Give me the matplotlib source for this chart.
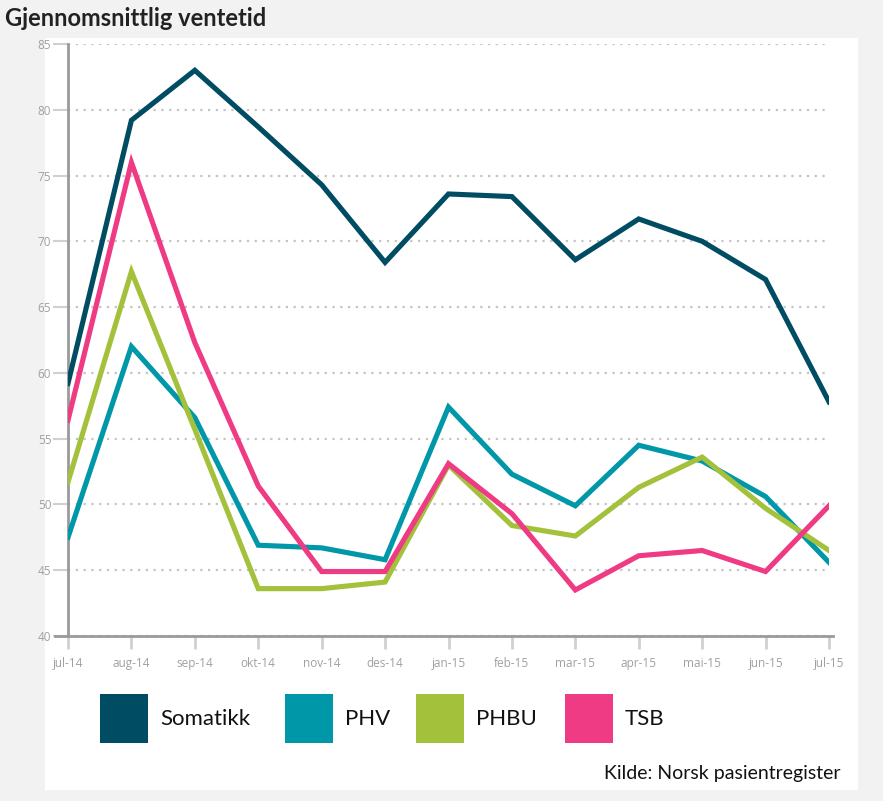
import matplotlib
matplotlib.use("Agg")
import matplotlib.pyplot as plt
from matplotlib.patches import Rectangle

# Data
months = ['jul-14', 'aug-14', 'sep-14', 'okt-14', 'nov-14', 'des-14', 'jan-15',
          'feb-15', 'mar-15', 'apr-15', 'mai-15', 'jun-15', 'jul-15']
somatikk = [59.2, 79.2, 83.0, 78.7, 74.3, 68.4, 73.6, 73.4, 68.6, 71.7, 70.0, 67.1, 57.8]
phv = [47.5, 62.0, 56.6, 46.9, 46.7, 45.8, 57.4, 52.3, 49.9, 54.5, 53.3, 50.6, 45.6]
phbu = [51.7, 67.7, 55.7, 43.6, 43.6, 44.1, 53.0, 48.4, 47.6, 51.3, 53.6, 49.7, 46.5]
tsb = [56.4, 76.0, 62.3, 51.4, 44.9, 44.9, 53.1, 49.3, 43.5, 46.1, 46.5, 44.9, 49.9]

series_names = ['Somatikk', 'PHV', 'PHBU', 'TSB']
series_colors = ['#004d63', '#0097a9', '#a3c13a', '#ef3a84']
series_values = [somatikk, phv, phbu, tsb]

W, H = 883, 801
fig = plt.figure(figsize=(W / 100, H / 100), dpi=100)
fig.patch.set_facecolor('#f2f2f2')

# white panel behind the chart
fig.patches.append(Rectangle((45 / W, 1 - 790 / H), (858 - 45) / W, (790 - 38) / H,
                             transform=fig.transFigure, facecolor='white',
                             edgecolor='none', zorder=-10))

fig.text(5 / W, 1 - 18 / H, 'Gjennomsnittlig ventetid', fontsize=17,
         fontweight='bold', family='Lato', color='#222222', va='center', ha='left')

ax = fig.add_axes([68 / W, 1 - 636 / H, (829 - 68) / W, (636 - 44) / H])
ax.set_facecolor('none')
ax.set_zorder(1)

x = list(range(len(months)))
for vals, col in zip(series_values, series_colors):
    ax.plot(x, vals, color=col, linewidth=3.7, solid_joinstyle='miter', zorder=3)

ax.set_xlim(0, 12)
ax.set_ylim(40, 85)
ax.set_yticks(range(40, 86, 5))
ax.set_xticks(x)
ax.set_xticklabels(months)

for s in ['top', 'right']:
    ax.spines[s].set_visible(False)
for s in ['left', 'bottom']:
    ax.spines[s].set_color('#9a9a9a')
    ax.spines[s].set_linewidth(2)
ax.spines['bottom'].set_bounds(-0.2, 12.06)

ax.yaxis.grid(True, linestyle=(0, (1, 2.5)), color='#c4c4c4', linewidth=1.6)
ax.set_axisbelow(True)
ax.tick_params(axis='both', colors='#d0d0d0', labelcolor='#a0a0a0', labelsize=8.5)
ax.tick_params(axis='y', length=11, width=1.5, pad=1)
ax.tick_params(axis='x', length=9, width=2, pad=6)
for lbl in ax.get_xticklabels() + ax.get_yticklabels():
    lbl.set_family('Open Sans')

# legend made of squares
leg_x = [100, 285, 416, 565]
for name, col, lx in zip(series_names, series_colors, leg_x):
    fig.patches.append(Rectangle((lx / W, 1 - 743 / H), 48 / W, 49 / H,
                                 transform=fig.transFigure, facecolor=col,
                                 edgecolor='none', zorder=2))
    fig.text((lx + 60) / W, 1 - 719 / H, name, fontsize=16, family='Lato',
             color='#111111', va='center', ha='left')

fig.text(840 / W, 1 - 773 / H, 'Kilde: Norsk pasientregister', fontsize=14,
         family='Lato', color='#111111', va='center', ha='right')

fig.savefig('out.png', dpi=100, facecolor=fig.get_facecolor())
